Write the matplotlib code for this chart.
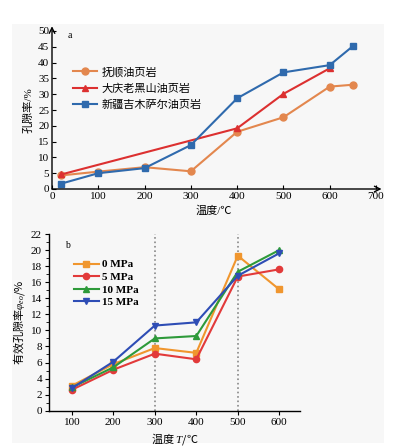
import matplotlib
matplotlib.use("Agg")
import matplotlib.pyplot as plt
from matplotlib.patches import Rectangle

plt.rcParams['font.family'] = ['Liberation Serif', 'Noto Sans CJK SC']
plt.rcParams['mathtext.fontset'] = 'custom'
plt.rcParams['mathtext.it'] = 'Liberation Serif:italic'
plt.rcParams['mathtext.rm'] = 'Liberation Serif'

# ---- chart a data ----
fushun_T = [20, 100, 200, 300, 400, 500, 600, 650]
fushun_phi = [4.3, 5.5, 6.9, 5.6, 18.1, 22.7, 32.4, 33.0]
daqing_T = [20, 400, 500, 600]
daqing_phi = [4.6, 19.2, 30.1, 38.2]
xinjiang_T = [20, 100, 200, 300, 400, 500, 600, 650]
xinjiang_phi = [1.7, 5.0, 6.6, 13.9, 28.7, 36.9, 39.2, 45.2]
labels_a = ['抚顺油页岩', '大庆老黑山油页岩', '新疆吉木萨尔油页岩']

# ---- chart b data ----
T_b = [100, 200, 300, 400, 500, 600]
p0 = [3.1, 5.8, 7.8, 7.2, 19.3, 15.1]
p5 = [2.6, 5.1, 7.1, 6.4, 16.7, 17.6]
p10 = [2.9, 5.4, 9.0, 9.3, 17.3, 20.0]
p15 = [2.8, 6.1, 10.6, 11.0, 16.8, 19.6]
labels_b = ['0 MPa', '5 MPa', '10 MPa', '15 MPa']
vlines_b = [300, 500]

W, H = 398, 447
fig = plt.figure(figsize=(W/100, H/100), dpi=100)
fig.patches.append(Rectangle((12/W, 1-443/H), (384-12)/W, (443-24)/H,
                             transform=fig.transFigure, facecolor='#f7f7f7',
                             edgecolor='none', zorder=-10))

fs = 8
# ---------- chart a ----------
ax1 = fig.add_axes([52/W, 1-189/H, 324/W, 158/H])
ax1.patch.set_alpha(0)
c_or, c_rd, c_bl = '#e3874e', '#dc3030', '#2f6aad'
ax1.plot(fushun_T, fushun_phi, '-o', color=c_or, lw=1.5, ms=5, label=labels_a[0])
ax1.plot(daqing_T, daqing_phi, '-^', color=c_rd, lw=1.5, ms=5, label=labels_a[1])
ax1.plot(xinjiang_T, xinjiang_phi, '-s', color=c_bl, lw=1.5, ms=5, label=labels_a[2])
ax1.set_xlim(0, 700)
ax1.set_ylim(0, 50)
ax1.set_xticks(range(0, 701, 100))
ax1.set_yticks(range(0, 51, 5))
for s in ['top', 'right', 'left', 'bottom']:
    ax1.spines[s].set_visible(False)
ax1.tick_params(direction='in', labelsize=fs, length=3, width=0.8, pad=2)
ax1.annotate('', xy=(0, 51.5), xytext=(0, 0), xycoords='data',
             arrowprops=dict(arrowstyle='->', lw=1.0, color='black', shrinkA=0, shrinkB=0),
             annotation_clip=False)
ax1.annotate('', xy=(712, 0), xytext=(0, 0), xycoords='data',
             arrowprops=dict(arrowstyle='->', lw=1.0, color='black', shrinkA=0, shrinkB=0),
             annotation_clip=False)
ax1.text(33, 48.5, 'a', fontsize=7, va='center')
ax1.set_xlabel('温度/℃', fontsize=fs, labelpad=3)
ax1.set_ylabel('孔隙率/%', fontsize=fs, labelpad=3)
ax1.legend(loc='upper left', bbox_to_anchor=(0.05, 0.80), frameon=False,
           fontsize=fs, handlelength=2.2, handletextpad=0.4, labelspacing=0.55,
           borderaxespad=0)

# ---------- chart b ----------
ax2 = fig.add_axes([49/W, 1-410.7/H, 251/W, 176.7/H])
ax2.patch.set_alpha(0)
for v in vlines_b:
    ax2.axvline(v, color='#888888', ls=':', lw=1.2, zorder=0)
cb = ['#f0962e', '#e23a3a', '#2e9a3a', '#2e4db5']
ax2.plot(T_b, p0, '-s', color=cb[0], lw=1.5, ms=4.5, label=labels_b[0])
ax2.plot(T_b, p5, '-o', color=cb[1], lw=1.5, ms=4.5, label=labels_b[1])
ax2.plot(T_b, p10, '-^', color=cb[2], lw=1.5, ms=5, label=labels_b[2])
ax2.plot(T_b, p15, '-v', color=cb[3], lw=1.5, ms=5, label=labels_b[3])
ax2.set_xlim(45, 650)
ax2.set_ylim(0, 22)
ax2.set_xticks(T_b)
ax2.set_yticks(range(0, 23, 2))
ax2.set_yticks(range(1, 22, 2), minor=True)
for s in ['top', 'right']:
    ax2.spines[s].set_visible(False)
ax2.spines['left'].set_linewidth(1.0)
ax2.spines['bottom'].set_linewidth(1.0)
ax2.tick_params(direction='out', labelsize=fs, length=3, width=0.8, pad=2)
ax2.tick_params(which='minor', direction='out', length=2, width=0.6)
ax2.text(83, 20.6, 'b', fontsize=7, va='center')
ax2.set_xlabel('温度 $T$/℃', fontsize=fs, labelpad=3, fontfamily='Noto Sans CJK SC')
ax2.set_ylabel('有效孔隙率$\\varphi_{eo}$/%', fontsize=fs, labelpad=3,
               fontfamily='Noto Sans CJK SC')
leg = ax2.legend(loc='upper left', bbox_to_anchor=(0.08, 0.88), frameon=False,
                 fontsize=fs, handlelength=2.3, handletextpad=0.3, labelspacing=0.25,
                 borderaxespad=0)
for t in leg.get_texts():
    t.set_fontweight('bold')

fig.savefig('out.png', dpi=100)
